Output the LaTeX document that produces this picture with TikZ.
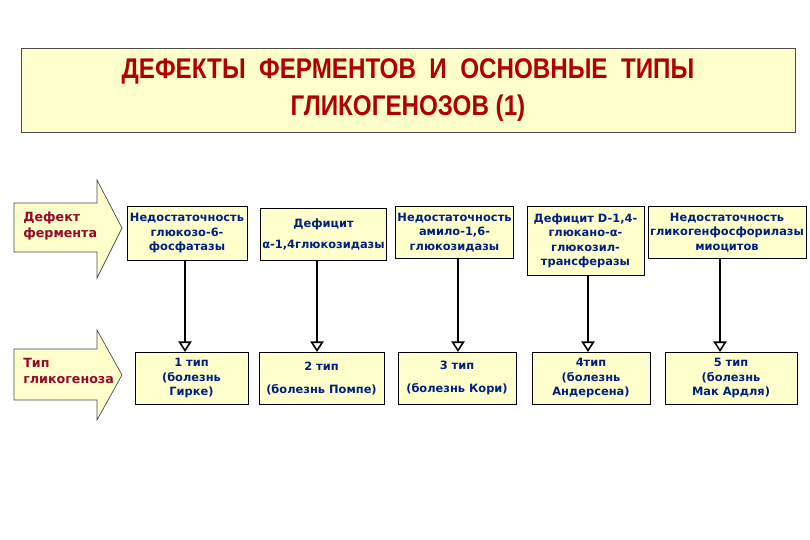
\documentclass[tikz,border=0pt]{standalone}
\usepackage{fontspec}
\setmainfont{DejaVu Sans}
\newfontfamily\titlefont{Liberation Sans}[FakeStretch=0.85]
\usetikzlibrary{arrows.meta}
\usepackage{xcolor}
\definecolor{glyellow}{RGB}{255,255,204}
\definecolor{glred}{RGB}{176,0,0}
\definecolor{glmaroon}{RGB}{150,10,40}
\definecolor{glnavy}{RGB}{0,32,128}
\tikzset{
    box/.style={
        draw=#1,thin,fill=glyellow,anchor=north,inner sep=1pt,
        align=center,text=glnavy,font=\fontsize{6.5}{8.2}\selectfont\bfseries
    },
    box/.default=black,
    bigarrow/.style={
        draw=#1,thin,fill=glyellow
    },
    bigarrow/.default=black!70,
    side/.style={
        anchor=west,align=left,text=glmaroon,inner sep=0pt,
        font=\fontsize{7.2}{9.6}\selectfont\bfseries
    },
    arrow/.style={
        -{Triangle[length=6pt,width=7.5pt,fill=white,line width=0.9pt]},
        line width=1.5pt,draw=black
    }
}
\begin{document}
\begin{tikzpicture}[x=0.02cm,y=-0.02cm]
\useasboundingbox (0,0) rectangle (810,540);

\node[
draw=black!70,thin,fill=glyellow,
minimum width=15.48cm,minimum height=1.68cm,align=center,text=glred,
font=\titlefont\fontsize{16.2}{21}\selectfont\bfseries
]
(title) at (408,90)
{
ДЕФЕКТЫ~ ФЕРМЕНТОВ~ И~ ОСНОВНЫЕ~ ТИПЫ\\
ГЛИКОГЕНОЗОВ (1)
};

% left arrows
\draw[bigarrow] (14,203) -- (97,203) -- (97,180) -- (122,228)
  -- (97,278) -- (97,252) -- (14,252) -- cycle;
\node[side] (defect) at (23,226) {Дефект\\фермента};

\draw[bigarrow] (14,349) -- (97,349) -- (97,330) -- (122,375)
  -- (97,420) -- (97,400) -- (14,400) -- cycle;
\node[side] (type) at (23,371) {Тип\\гликогеноза};

% enzyme defects
\node[box,minimum width=2.4cm,minimum height=1.08cm] (d1) at (187,206)
{Недостаточность\\глюкозо-6-\\фосфатазы};
\node[box,minimum width=2.46cm,minimum height=1.04cm] (d2) at (323.5,208)
{Дефицит\\[4pt]α-1,4глюкозидазы};
\node[box,minimum width=2.26cm,minimum height=1.04cm] (d3) at (454.5,206)
{Недостаточность\\амило-1,6-\\глюкозидазы};
\node[box,minimum width=2.34cm,minimum height=1.38cm] (d4) at (585.5,206)
{Дефицит D-1,4-\\глюкано-α-\\глюкозил-\\трансферазы};
\node[box,minimum width=3.16cm,minimum height=1.04cm] (d5) at (727,206)
{Недостаточность\\гликогенфосфорилазы\\миоцитов};

% glycogenosis types
\node[box,minimum width=2.26cm,minimum height=1.04cm] (t1) at (191.5,352)
{1 тип\\(болезнь\\Гирке)};
\node[box,minimum width=2.5cm,minimum height=1.04cm] (t2) at (321.5,352)
{2 тип\\[5pt](болезнь Помпе)};
\node[box,minimum width=2.36cm,minimum height=1.04cm] (t3) at (457,352)
{3 тип\\[5pt](болезнь Кори)};
\node[box,minimum width=2.36cm,minimum height=1.04cm] (t4) at (591,352)
{4тип\\(болезнь\\Андерсена)};
\node[box,minimum width=2.64cm,minimum height=1.04cm] (t5) at (731,352)
{5 тип\\(болезнь\\Мак Ардля)};

\foreach \n/\x in {1/185,2/317,3/458,4/588,5/720}
  \draw[arrow] (d\n.south -| \x,0) -- (t\n.north -| \x,0);

\end{tikzpicture}
\end{document}
